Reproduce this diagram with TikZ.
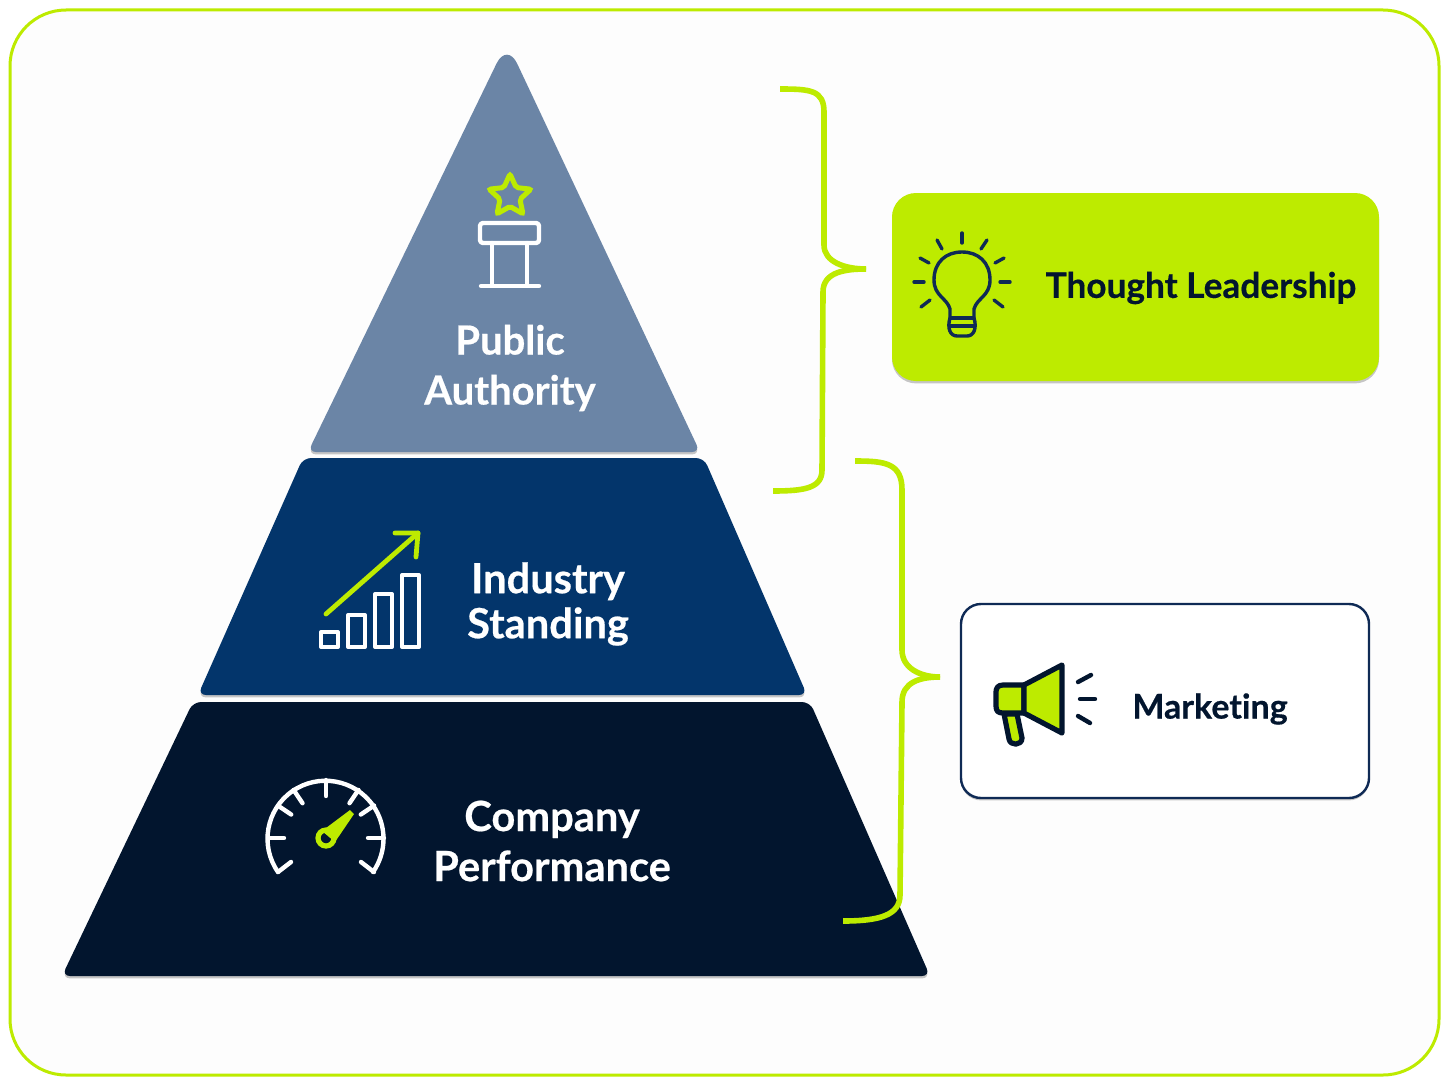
\documentclass[tikz,border=0pt]{standalone}
\usepackage{fontspec}
\setmainfont{Lato}[Ligatures=NoCommon, BoldFont={Lato Bold}, BoldFeatures={FakeBold=0.5}]
\usetikzlibrary{shapes.geometric, shadows}
\definecolor{lime}{HTML}{BDEB00}
\definecolor{slateblue}{HTML}{6B85A6}
\definecolor{midnavy}{HTML}{03356B}
\definecolor{deepnavy}{HTML}{02152E}
\definecolor{inknavy}{HTML}{0F2A55}
\definecolor{paper}{HTML}{FDFDFD}
\tikzset{
  lift/.style={drop shadow={shadow xshift=0pt, shadow yshift=-1.2pt, fill=black, opacity=.22}},
  level/.style={rounded corners=4pt, lift},
  whitetext/.style={text=white, font=\bfseries\fontsize{20.8}{25}\selectfont, align=center},
  darktext/.style={text=deepnavy, font=\bfseries\fontsize{17.6}{21}\selectfont},
  iconline/.style={draw=white, line width=2.2pt, line cap=round, line join=round},
  limeline/.style={draw=lime, line width=2.4pt, line cap=round, line join=round},
  bracket/.style={draw=lime, line width=2.8pt, line join=round},
  bulbline/.style={draw=inknavy, line width=1.7pt, line cap=round, line join=round},
  hornline/.style={draw=deepnavy, line width=2.6pt, line join=round, line cap=round},
}
\begin{document}
\begin{tikzpicture}[x=0.5pt, y=-0.5pt]
  \useasboundingbox (0,0) rectangle (1449,1086);
  \fill[white] (0,0) rectangle (1449,1086);
  \draw[draw=lime, line width=1.5pt, fill=paper, rounded corners=28pt] (10,10) rectangle (1439,1075);

  % pyramid
  \fill[slateblue, lift] (500,452) [rounded corners=4pt] -- (700,452) [rounded corners=12pt] -- (507,42) [rounded corners=4pt] -- (308,452) -- cycle;
  \fill[midnavy, level] (303,458)-- (704,458)-- (807,695)-- (198,695)--cycle;
  \fill[deepnavy, level] (193,702)-- (810,702)-- (930,976)-- (62,976)--cycle;

  \node[whitetext, font=\bfseries\fontsize{20}{25}\selectfont] (publicauthority) at (510,368) {Public\\Authority};
  \node[whitetext, font=\bfseries\fontsize{20.8}{22.5}\selectfont] (industrystanding) at (548,604) {Industry\\Standing};
  \node[whitetext] (companyperformance) at (552,841) {Company\\Performance};

  % podium
  \begin{scope}
    \node[star, star points=5, star point ratio=2.1, minimum size=22pt, inner sep=0pt, draw=lime, line width=2.5pt, rounded corners=1pt] (podiumstar) at (510,196) {};
    \draw[iconline, rounded corners=1.5pt] (480,223) rectangle (539,243);
    \draw[iconline] (492,243)-- (492,285);
    \draw[iconline] (527,243)-- (527,285);
    \draw[iconline] (481,286)-- (539,286);
  \end{scope}

  % bars
  \begin{scope}
    \draw[limeline] (326,614)-- (418,533);
    \draw[limeline] (395,533)-- (418,533)-- (416,557);
    \draw[iconline, line width=2pt] (321,632) rectangle (338,647);
    \draw[iconline, line width=2pt] (348,615) rectangle (365,647);
    \draw[iconline, line width=2pt] (375,594) rectangle (392,647);
    \draw[iconline, line width=2pt] (402,575) rectangle (419,647);
  \end{scope}

  % gauge
  \begin{scope}[shift={(326,838)}]
    \draw[iconline] (-48,34)-- (-35,24);
    \draw[iconline] (-48,34) arc[start angle=215, end angle=-35, radius=58, y radius=-58];
    \draw[iconline] (48,34)-- (35,24);
    \foreach \ang in {0,34,56,90,124,146,180}
      \draw[iconline] (-\ang:58) -- (-\ang:42);
  \end{scope}
  \begin{scope}[shift={(326,838)}]
    \fill[lime] (-4,-7)-- (24,-28)-- (28,-24)-- (9,4)--cycle;
    \draw[draw=lime, line width=2.6pt] (0,0) circle[radius=8];
  \end{scope}

  % brackets
  \draw[bracket] (780,89) .. controls (810,89) and (824,90) .. (824,112)
    -- (824,245) .. controls (824,262) and (845,269) .. (866,269);
  \draw[bracket] (866,269) .. controls (845,269) and (823,272) .. (823,292)
    -- (822,470) .. controls (822,488) and (805,491) .. (773,491);
  \draw[bracket] (855,461) .. controls (885,461) and (902,463) .. (902,490)
    -- (902,650) .. controls (902,668) and (920,677) .. (940,677);
  \draw[bracket] (940,677) .. controls (920,677) and (902,682) .. (902,702)
    -- (900,895) .. controls (900,915) and (880,921) .. (843,921);

  % right side boxes
  \fill[lime, rounded corners=12pt, lift] (892,193) rectangle (1379,381);
  \draw[draw=inknavy, line width=1.2pt, fill=white, rounded corners=10pt, lift] (961,604) rectangle (1369,798);
  \node[darktext] (thought) at (1201,288) {Thought Leadership};
  \node[darktext, font=\bfseries\fontsize{17}{21}\selectfont] (marketing) at (1210,709) {Marketing};

  % bulb
  \begin{scope}
    \draw[bulbline] (950,317)-- (950,309) .. controls (947,298) and (934,296) .. (934,280)
      .. controls (934,262) and (946,252) .. (962,252)
      .. controls (978,252) and (990,262) .. (990,280)
      .. controls (990,296) and (977,298) .. (974,309)-- (974,317);
    \draw[bulbline] (950,318)-- (974,318);
    \draw[bulbline] (950,326)-- (974,326);
    \draw[bulbline] (950,318) .. controls (947,328) and (950,336) .. (957,336)-- (967,336) .. controls (974,336) and (977,328) .. (974,318);
    \foreach \xa/\ya/\xb/\yb in {962/233/962/243, 937/240/942/249, 920/258/929/263, 914/282/924/282,
      921/307/930/300, 987/240/981/249, 1004/258/995/263, 1010/282/1000/282, 1003/307/994/300}
      \draw[bulbline] (\xa,\ya)-- (\xb,\yb);
  \end{scope}

  % megaphone
  \begin{scope}
    \filldraw[fill=lime, hornline] (1004,714)-- (1009,739) .. controls (1010,746) and (1022,746) .. (1022,738)-- (1017,714)--cycle;
    \filldraw[fill=lime, hornline] (1024,685)-- (1003,685) .. controls (998,685) and (996,688) .. (996,692)-- (996,706) .. controls (996,711) and (998,713) .. (1003,713)-- (1024,713)--cycle;
    \filldraw[fill=lime, hornline] (1024,685)-- (1062,665)-- (1062,733)-- (1024,713)--cycle;
    \draw[hornline, line width=2.2pt] (1078,682)-- (1091,675);
    \draw[hornline, line width=2.2pt] (1080,699)-- (1095,699);
    \draw[hornline, line width=2.2pt] (1078,716)-- (1090,723);
  \end{scope}
\end{tikzpicture}
\end{document}
